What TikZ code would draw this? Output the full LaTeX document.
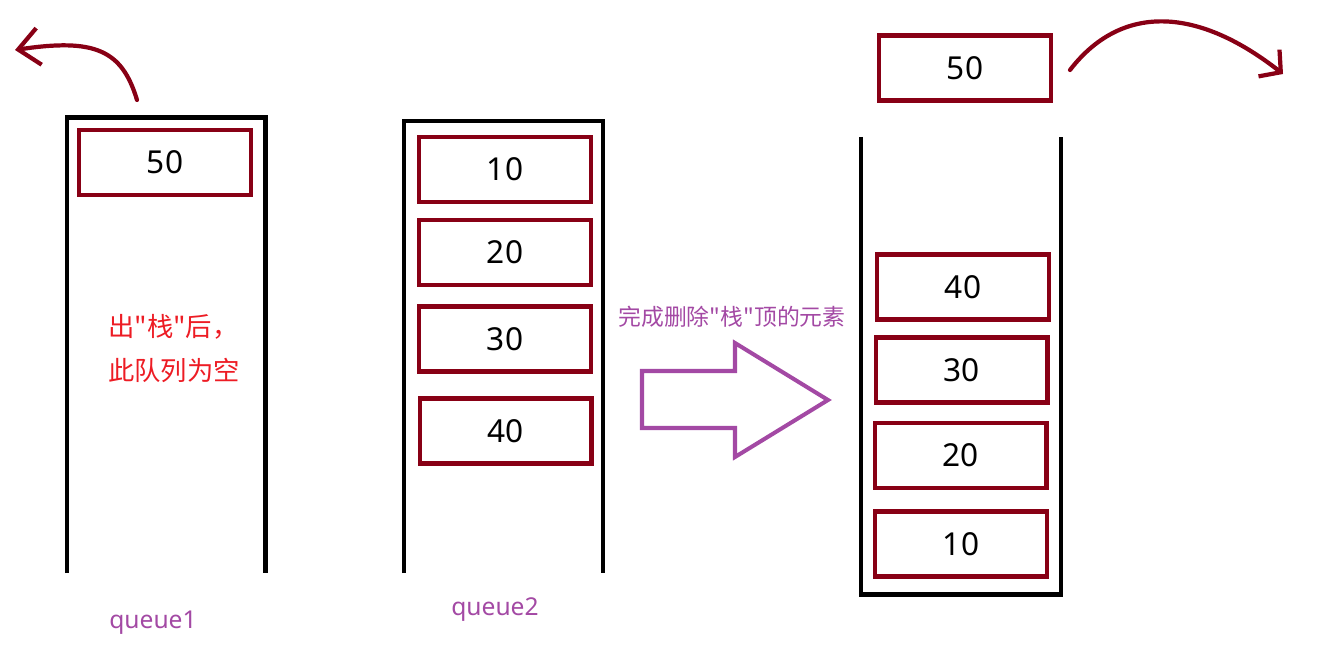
\documentclass[tikz,border=0pt]{standalone}
\usepackage{fontspec}
\setmainfont{Noto Sans}
\newfontfamily\cjk{Noto Sans CJK SC}
\usetikzlibrary{arrows.meta, positioning}
\definecolor{boxred}{HTML}{880015}
\definecolor{lilac}{HTML}{A349A4}
\definecolor{notered}{HTML}{ED1C24}

\begin{document}
\begin{tikzpicture}[x=0.02cm, y=-0.02cm,
    elem/.style={draw=boxred, line width=2.3pt, minimum width=3.44cm, minimum height=1.3cm,
                 inner sep=0pt, font=\fontsize{18}{20}\selectfont},
    wall/.style={line width=2.6pt, black},
    popline/.style={boxred, line width=2.4pt, line cap=round}]

\useasboundingbox (0,0) rectangle (1334,651);

% Containers
\draw[wall] (67,573) -- (67,117.5) -- (265.5,117.5) -- (265.5,573);
\draw[wall] (404,573) -- (404,121) -- (603,121) -- (603,573);
\draw[wall] (861,137) -- (861,594.5) -- (1061,594.5) -- (1061,137);

% queue1
\node[elem] (qa50) at (165,162.5) {50};

% queue2
\node[elem] (qb10) at (505,169.5) {10};
\node[elem] (qb20) at (505,252.5) {20};
\node[elem] (qb30) at (505,339) {30};
\node[elem] (qb40) at (505.5,431) {40};

% Result stack
\node[elem] (st50) at (965,68) {50};
\node[elem] (st40) at (963,287) {40};
\node[elem] (st30) at (961.5,370) {30};
\node[elem] (st20) at (960.5,455.5) {20};
\node[elem] (st10) at (961,544) {10};

% Pop arrows
\coordinate (popA) at (137,100);
\coordinate (outA) at (15,50);
\draw[popline, -{Straight Barb[length=0.42cm, width=0.74cm]}]
    (popA) .. controls (122,50) and (95,38) .. (outA);
\coordinate (popB) at (1070,70);
\coordinate (outB) at (1283,74);
\draw[popline, -{Straight Barb[length=0.3cm, width=0.68cm]}]
    (popB) .. controls (1120,5) and (1195,5) .. (outB);

% Transfer arrow
\draw[lilac, line width=2.3pt, line join=miter]
    (642,371) -- (735,371) -- (735,343) -- (828,400) -- (735,457) -- (735,428) -- (642,428) -- cycle;
\node[lilac, font=\cjk\fontsize{13}{15}\selectfont] (done) at (732,317) {完成删除"栈"顶的元素};

% Notes
\node[notered, anchor=west, align=left, font=\cjk\fontsize{15}{25}\selectfont] (empty) at (102,349)
    {出"栈"后，\\此队列为空};
\node[lilac, font=\fontsize{14}{16}\selectfont] (qname1) at (153,623) {queue1};
\node[lilac, font=\fontsize{14}{16}\selectfont] (qname2) at (495,610) {queue2};

\end{tikzpicture}
\end{document}
